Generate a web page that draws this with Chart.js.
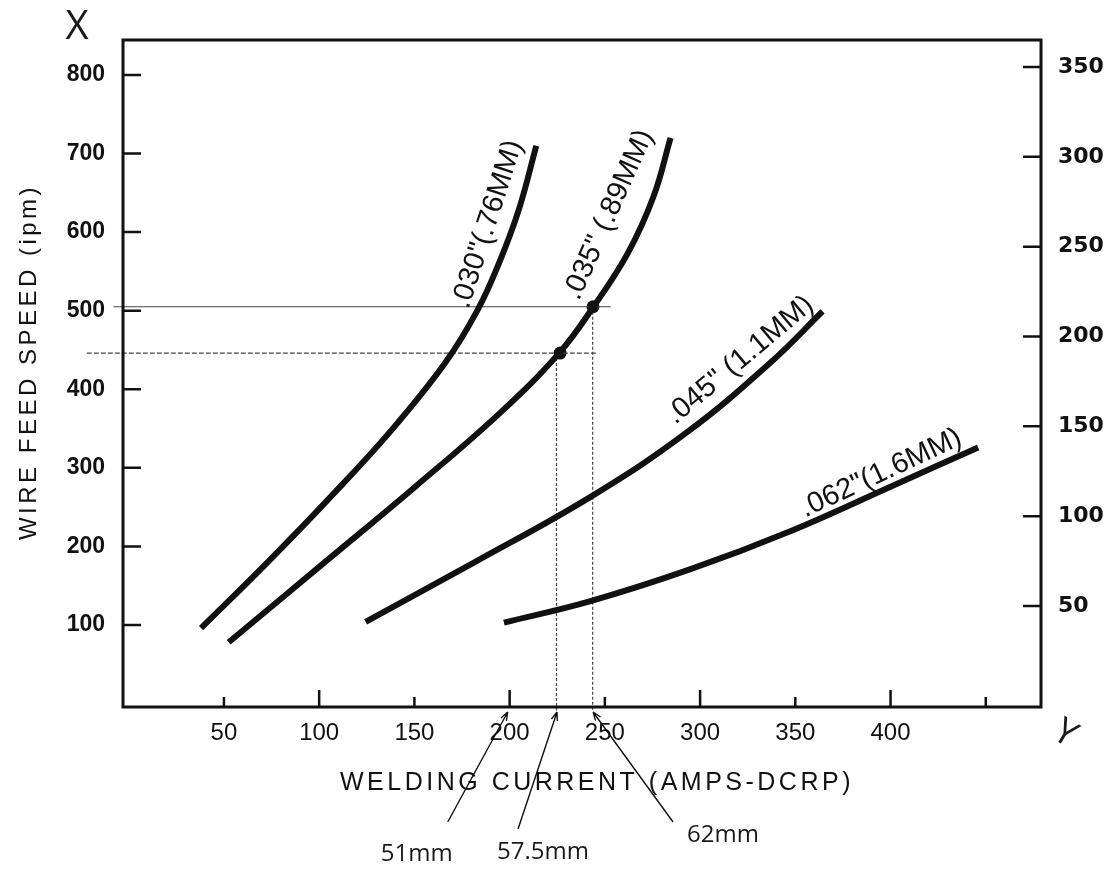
<!DOCTYPE html>
<html>
<head>
<meta charset="utf-8">
<title>Wire feed speed vs welding current</title>
<script src="https://cdn.jsdelivr.net/npm/chart.js@4.4.1/dist/chart.umd.min.js"></script>
<style>
  html, body { margin: 0; padding: 0; background: #fff; }
</style>
</head>
<body>
<canvas id="chart" width="1120" height="877"></canvas>
<script>
// courbes : courant (A) et vitesse de fil (ipm)
const wire030Amps = [38, 73, 106, 138, 166, 183, 194.5, 205, 214];
const wire030Ipm  = [96, 180, 263, 348, 433, 500, 561, 630, 710];
const wire035Amps = [52.5, 103, 150, 195, 226, 244, 262, 275.5, 284.5];
const wire035Ipm  = [78, 180, 275, 370, 446, 505, 573, 645, 720];
const wire045Amps = [124.4, 181, 242.5, 293, 337, 364.3];
const wire045Ipm  = [104, 179, 263, 345, 434, 499];
const wire062Amps = [197, 242, 295, 348, 400, 446];
const wire062Ipm  = [103, 130, 171, 220, 276, 326];

const wireLabels = ['.030"(.76MM)', '.035" (.89MM)', '.045" (1.1MM)', '.062"(1.6MM)'];
const labelAmps  = [188.5, 252, 321, 395];
const labelIpm   = [610, 622, 437, 293];
const labelAngle = [-72, -66, -40, -25];

// traits de lecture et points marqués
const guideIpm      = [446, 505];
const guideAmps     = [224.6, 243.6];
const guideLeftEnd  = [-22, -8];
const guideRightEnd = [246, 253];
const guideBottom   = -9;
const markAmps = [226.5, 243.8];
const markIpm  = [446, 505];

// graduations
const ampLabels = [50, 100, 150, 200, 250, 300, 350, 400];
const ampTicks  = [50, 100, 150, 200, 250, 300, 350, 400, 450];
const ipmTicks  = [100, 200, 300, 400, 500, 600, 700, 800];
const rightTicks = [50, 100, 150, 200, 250, 300, 350];

// notes à la main sous l'axe
const noteText = ['51mm', '57.5mm', '62mm'];
const noteAmps = [199, 224.9, 243.8];

const ink = '#111';

function pts(xs, ys) {
  return xs.map((v, i) => ({ x: v, y: ys[i] }));
}

function curve(xs, ys) {
  return {
    data: pts(xs, ys),
    showLine: true,
    borderColor: ink,
    borderWidth: 6,
    borderCapStyle: 'butt',
    pointRadius: 0,
    tension: 0.4
  };
}

function guide(data, dash) {
  return {
    data: data,
    showLine: true,
    borderColor: '#444',
    borderWidth: 1.2,
    borderDash: dash,
    pointRadius: 0,
    clip: false
  };
}

const datasets = [
  curve(wire030Amps, wire030Ipm),
  curve(wire035Amps, wire035Ipm),
  curve(wire045Amps, wire045Ipm),
  curve(wire062Amps, wire062Ipm)
];
// horizontales
guideIpm.forEach((v, i) => {
  datasets.push(guide([{ x: guideLeftEnd[i], y: v }, { x: guideRightEnd[i], y: v }], i === 0 ? [5, 2] : []));
});
// verticales
guideAmps.forEach((v, i) => {
  datasets.push(guide([{ x: v, y: guideIpm[i] }, { x: v, y: guideBottom }], [3, 2]));
});
datasets.push({
  data: pts(markAmps, markIpm),
  pointRadius: 6.5,
  pointBackgroundColor: ink,
  pointBorderWidth: 0
});

// cadre, graduations internes, titres et annotations
const decor = {
  id: 'decor',
  afterDraw(chart) {
    const { ctx, chartArea: a, scales } = chart;
    const sx = scales.x, sy = scales.y, sy2 = scales.y2;
    ctx.save();
    ctx.strokeStyle = ink;
    ctx.fillStyle = ink;

    ctx.lineWidth = 3;
    ctx.strokeRect(a.left, a.top, a.right - a.left, a.bottom - a.top);

    ctx.lineWidth = 2.5;
    ctx.beginPath();
    ampTicks.forEach(v => {
      const px = sx.getPixelForValue(v);
      const len = v % 100 === 0 ? 17 : 10;
      ctx.moveTo(px, a.bottom);
      ctx.lineTo(px, a.bottom - len);
    });
    ipmTicks.forEach(v => {
      const py = sy.getPixelForValue(v);
      ctx.moveTo(a.left, py);
      ctx.lineTo(a.left + 18, py);
    });
    rightTicks.forEach(v => {
      const py = sy2.getPixelForValue(v);
      ctx.moveTo(a.right, py);
      ctx.lineTo(a.right - 18, py);
    });
    ctx.stroke();

    // étiquettes des courbes
    ctx.font = '29px "Liberation Sans"';
    ctx.textAlign = 'center';
    ctx.textBaseline = 'middle';
    wireLabels.forEach((t, i) => {
      ctx.save();
      ctx.translate(sx.getPixelForValue(labelAmps[i]), sy.getPixelForValue(labelIpm[i]));
      ctx.rotate(labelAngle[i] * Math.PI / 180);
      ctx.fillText(t, 0, 0);
      ctx.restore();
    });

    // titres des axes
    ctx.save();
    ctx.letterSpacing = '3.5px';
    ctx.font = '24px "Liberation Sans"';
    ctx.translate(29, 362);
    ctx.rotate(-Math.PI / 2);
    ctx.fillText('WIRE FEED SPEED (ipm)', 0, 0);
    ctx.restore();

    ctx.save();
    ctx.letterSpacing = '3.5px';
    ctx.font = '25px "Liberation Sans"';
    ctx.fillText('WELDING CURRENT (AMPS-DCRP)', (a.left + a.right) / 2 + 15, a.bottom + 76);
    ctx.restore();

    // notes manuscrites
    const tail = [[-60, 110], [-39, 117], [80, 110]];
    const txt = [[-91, 142], [-14, 140], [130, 123]];
    ctx.lineWidth = 1.4;
    ctx.fillStyle = '#1a1a1a';
    ctx.font = '24px "Open Sans"';
    noteText.forEach((t, i) => {
      const tx = sx.getPixelForValue(noteAmps[i]);
      const ty = a.bottom + 5;
      const ex = tx + tail[i][0], ey = ty + tail[i][1];
      ctx.beginPath();
      ctx.moveTo(ex, ey);
      ctx.lineTo(tx, ty);
      const ang = Math.atan2(ty - ey, tx - ex);
      ctx.moveTo(tx, ty);
      ctx.lineTo(tx - 9 * Math.cos(ang - 0.35), ty - 9 * Math.sin(ang - 0.35));
      ctx.moveTo(tx, ty);
      ctx.lineTo(tx - 9 * Math.cos(ang + 0.35), ty - 9 * Math.sin(ang + 0.35));
      ctx.stroke();
      ctx.fillText(t, tx + txt[i][0], ty + txt[i][1]);
    });

    ctx.font = '40px "Open Sans"';
    ctx.fillText('X', a.left - 46, a.top - 12);

    ctx.save();
    ctx.translate(a.right + 24, a.bottom + 27);
    ctx.rotate(0.55);
    ctx.font = '36px "Open Sans"';
    ctx.fillText('Y', 0, 0);
    ctx.restore();

    ctx.restore();
  }
};

new Chart(document.getElementById('chart'), {
  type: 'scatter',
  data: { datasets: datasets },
  options: {
    responsive: false,
    animation: false,
    layout: { padding: { top: 40 } },
    plugins: { legend: { display: false }, tooltip: { enabled: false } },
    scales: {
      x: {
        type: 'linear',
        position: 'bottom',
        min: -3,
        max: 479,
        grid: { display: false, drawTicks: false },
        border: { display: false },
        ticks: { color: ink, padding: 12, font: { family: 'Liberation Sans', size: 24 } },
        afterBuildTicks: s => { s.ticks = ampLabels.map(v => ({ value: v })); },
        afterFit: s => { s.height = 170; }
      },
      y: {
        type: 'linear',
        position: 'left',
        min: -4.4,
        max: 844.5,
        grid: { display: false, drawTicks: false },
        border: { display: false },
        ticks: { color: ink, padding: 18, font: { family: 'Liberation Sans', size: 23, weight: 'bold' } },
        afterBuildTicks: s => { s.ticks = ipmTicks.map(v => ({ value: v })); },
        afterFit: s => { s.width = 123; }
      },
      y2: {
        type: 'linear',
        position: 'right',
        min: -6.2,
        max: 365,
        grid: { display: false, drawTicks: false },
        border: { display: false },
        ticks: { color: ink, padding: 17, font: { family: 'DejaVu Sans', size: 22, weight: 'bold' } },
        afterBuildTicks: s => { s.ticks = rightTicks.map(v => ({ value: v })); },
        afterFit: s => { s.width = 79; }
      }
    }
  },
  plugins: [decor]
});
</script>
</body>
</html>
